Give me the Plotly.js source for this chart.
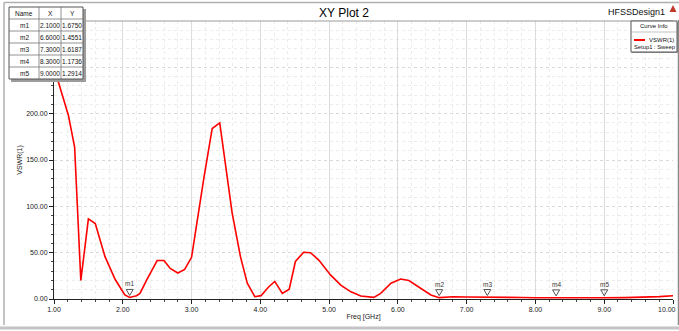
<!DOCTYPE html>
<html><head><meta charset="utf-8">
<script src="https://cdn.plot.ly/plotly-3.0.1.min.js"></script>
<style>html,body{margin:0;padding:0;background:#fff;}#chart{width:679px;height:331px;}</style>
</head><body><div id="chart"></div>
<script>
// ---- data ----
const freqGHz = [1.00, 1.04, 1.21, 1.30, 1.39, 1.50, 1.60, 1.74, 1.89, 2.03, 2.10, 2.20, 2.25, 2.35, 2.50, 2.60, 2.69, 2.80, 2.90, 3.00, 3.18, 3.30, 3.41, 3.59, 3.71, 3.81, 3.92, 4.01, 4.12, 4.21, 4.32, 4.42, 4.51, 4.63, 4.73, 4.85, 5.02, 5.17, 5.31, 5.46, 5.65, 5.75, 5.90, 6.04, 6.16, 6.34, 6.48, 6.60, 6.80, 7.00, 7.20, 7.30, 7.50, 7.80, 8.00, 8.30, 8.60, 9.00, 9.30, 9.60, 9.80, 10.00];
const vswr    = [255, 240, 198, 164, 20, 86.5, 81.5, 46, 21, 4.5, 1.675, 3.6, 6, 21, 41.5, 41.5, 33, 28, 32, 45, 131, 184, 190, 93, 46, 17, 2.5, 3.6, 13, 19, 6, 10.5, 40.5, 50.5, 50, 42, 26, 15, 8, 3.3, 1.8, 6, 17, 21.5, 20, 11.6, 4.3, 1.456, 2.4, 2.2, 1.9, 1.619, 2.0, 1.6, 1.4, 1.174, 1.2, 1.291, 1.5, 1.9, 2.6, 3.5];
const markerNames = ['m1', 'm2', 'm3', 'm4', 'm5'];
const markerX = [2.1000, 6.6000, 7.3000, 8.3000, 9.0000];
const markerY = [1.6750, 1.4551, 1.6187, 1.1736, 1.2914];
const xTickVals = [1, 2, 3, 4, 5, 6, 7, 8, 9, 10];
const xTickText = ['1.00', '2.00', '3.00', '4.00', '5.00', '6.00', '7.00', '8.00', '9.00', ''];
const xLastTickText = '10.00';
const yTickVals = [0, 50, 100, 150, 200, 250, 300];
const yTickText = ['0.00', '50.00', '100.00', '150.00', '200.00', '', ''];

// ---- layout helpers (pixel -> paper) ----
const W = 679, H = 331, L = 54, R = 6, T = 21, B = 32;
const PW = W - L - R, PH = H - T - B;
const px = x => (x - L) / PW;
const py = y => (H - B - y) / PH;
const FONT = 'Liberation Sans, Arial, sans-serif';

const shapes = [];
const annotations = [];

function rectPx(x0, y0, x1, y1, fill, lineColor, lw) {
  shapes.push({type: 'rect', xref: 'paper', yref: 'paper', layer: 'above',
    x0: px(x0), x1: px(x1), y0: py(y1), y1: py(y0),
    fillcolor: fill, line: {color: lineColor || 'rgba(0,0,0,0)', width: lw === undefined ? 1 : lw}});
}
function linePx(x0, y0, x1, y1, color, w) {
  shapes.push({type: 'line', xref: 'paper', yref: 'paper', layer: 'above',
    x0: px(x0), x1: px(x1), y0: py(y0), y1: py(y1), line: {color: color, width: w || 1}});
}
function textPx(x, y, text, size, xanchor, color) {
  annotations.push({xref: 'paper', yref: 'paper', x: px(x), y: py(y), text: text,
    showarrow: false, xanchor: xanchor || 'center', yanchor: 'middle',
    font: {family: FONT, size: size, color: color || '#111'}});
}

// outer window frame
linePx(4, 2.5, 679, 2.5, '#b0b0b0', 1.5);
linePx(4, 2.5, 4, 325, '#b0b0b0', 1.5);
linePx(0, 328, 679, 328, '#c4c4c4', 3);
linePx(678.5, 20, 678.5, 325, '#8a8a8a', 1.5);
// plot top border
linePx(L, T, W - R, T, '#9a9a9a', 1);

// last x tick label kept inside the page edge
textPx(678, 309.5, xLastTickText, 7, 'right', '#222');

// marker table (built from marker arrays)
const colX = [9, 39, 61, 83];
const rowH = 12, tTop = 7;
const nRows = markerNames.length + 1;
rectPx(colX[0] + 2, tTop + 2, colX[3] + 3, tTop + nRows * rowH + 3, '#9c9c9c', null, 0);
rectPx(colX[0], tTop, colX[3], tTop + nRows * rowH, '#ffffff', '#555', 1);
for (let r = 1; r < nRows; r++) linePx(colX[0], tTop + r * rowH, colX[3], tTop + r * rowH, '#777', 0.8);
for (let c = 1; c < 3; c++) linePx(colX[c], tTop, colX[c], tTop + nRows * rowH, '#777', 0.8);
const header = ['Name', 'X', 'Y'];
header.forEach((h, c) => textPx((colX[c] + colX[c + 1]) / 2, tTop + rowH / 2 + 0.5, h, 6.5));
markerNames.forEach((n, i) => {
  const yc = tTop + (i + 1) * rowH + rowH / 2 + 0.5;
  textPx((colX[0] + colX[1]) / 2, yc, n, 6.5);
  textPx((colX[1] + colX[2]) / 2, yc, markerX[i].toFixed(4), 6.5);
  textPx((colX[2] + colX[3]) / 2, yc, markerY[i].toFixed(4), 6.5);
});

// curve info box
rectPx(632, 22, 678, 53, '#a0a0a0', null, 0);
rectPx(631, 21, 677, 52, '#ffffff', '#555', 1);
linePx(631, 32, 677, 32, '#999', 0.6);
textPx(654, 26.5, 'Curve Info', 6);
linePx(634, 40, 645, 40, '#ff0000', 2);
textPx(675.5, 40, 'VSWR(1)', 6, 'right');
textPx(654, 47.5, 'Setup1 : Sweep', 5.8);

// header texts
textPx(667, 12, 'HFSSDesign1', 9, 'right', '#111');
shapes.push({type: 'path', xref: 'paper', yref: 'paper', layer: 'above',
  path: `M ${px(669.5)},${py(12)} L ${px(673)},${py(5)} L ${px(676.5)},${py(12)} Z`,
  fillcolor: '#c0392b', line: {width: 0}});

// marker triangles + labels (anchored to marker data)
markerNames.forEach((n, i) => {
  shapes.push({type: 'path', xref: 'x', yref: 'y', layer: 'above',
    xsizemode: 'pixel', ysizemode: 'pixel', xanchor: markerX[i], yanchor: markerY[i],
    path: 'M -3.5,8 L 3.5,8 L 0,2 Z', fillcolor: 'rgba(255,255,255,0)',
    line: {color: '#555', width: 1}});
  annotations.push({xref: 'x', yref: 'y', x: markerX[i], y: markerY[i], text: n,
    showarrow: false, xanchor: 'center', yanchor: 'bottom', yshift: 8,
    font: {family: FONT, size: 6.5, color: '#333'}});
});

const trace = {
  x: freqGHz, y: vswr, type: 'scatter', mode: 'lines',
  line: {color: '#ff0000', width: 1.6}, hoverinfo: 'skip', showlegend: false
};

const layout = {
  width: W, height: H,
  margin: {l: L, r: R, t: T, b: B, pad: 0},
  paper_bgcolor: '#ffffff', plot_bgcolor: '#ffffff',
  showlegend: false,
  title: {text: 'XY Plot 2', xref: 'paper', x: px(344), xanchor: 'center',
    yref: 'container', y: 1 - 12.5 / H, yanchor: 'middle',
    font: {family: FONT, size: 12, color: '#000'}},
  xaxis: {
    range: [1, 10], tickmode: 'array', tickvals: xTickVals, ticktext: xTickText,
    showgrid: true, gridcolor: '#dcdcdc', gridwidth: 1,
    ticks: 'outside', ticklen: 4, tickcolor: '#222', tickwidth: 1,
    showline: true, linecolor: '#222', linewidth: 1, zeroline: false,
    tickfont: {family: FONT, size: 7, color: '#222'},
    minor: {dtick: 0.2, showgrid: true, gridcolor: '#ececec', griddash: 'dot',
      ticks: 'outside', ticklen: 2, tickcolor: '#444'},
    title: {text: 'Freq [GHz]', standoff: 1, font: {family: FONT, size: 7, color: '#222'}},
    automargin: false, fixedrange: true
  },
  yaxis: {
    range: [0, 300], tickmode: 'array', tickvals: yTickVals, ticktext: yTickText,
    showgrid: true, gridcolor: '#d9d9d9', gridwidth: 1, griddash: 'dot',
    ticks: 'outside', ticklen: 4, tickcolor: '#222', tickwidth: 1,
    showline: true, linecolor: '#222', linewidth: 1, zeroline: false,
    tickfont: {family: FONT, size: 7, color: '#222'},
    minor: {dtick: 10, showgrid: true, gridcolor: '#ececec', griddash: 'dot',
      ticks: 'outside', ticklen: 2.5, tickcolor: '#444'},
    title: {text: 'VSWR(1)', standoff: 2, font: {family: FONT, size: 7, color: '#222'}},
    automargin: false, fixedrange: true
  },
  shapes: shapes,
  annotations: annotations
};

Plotly.newPlot('chart', [trace], layout, {staticPlot: true, displayModeBar: false});
</script>
</body></html>
